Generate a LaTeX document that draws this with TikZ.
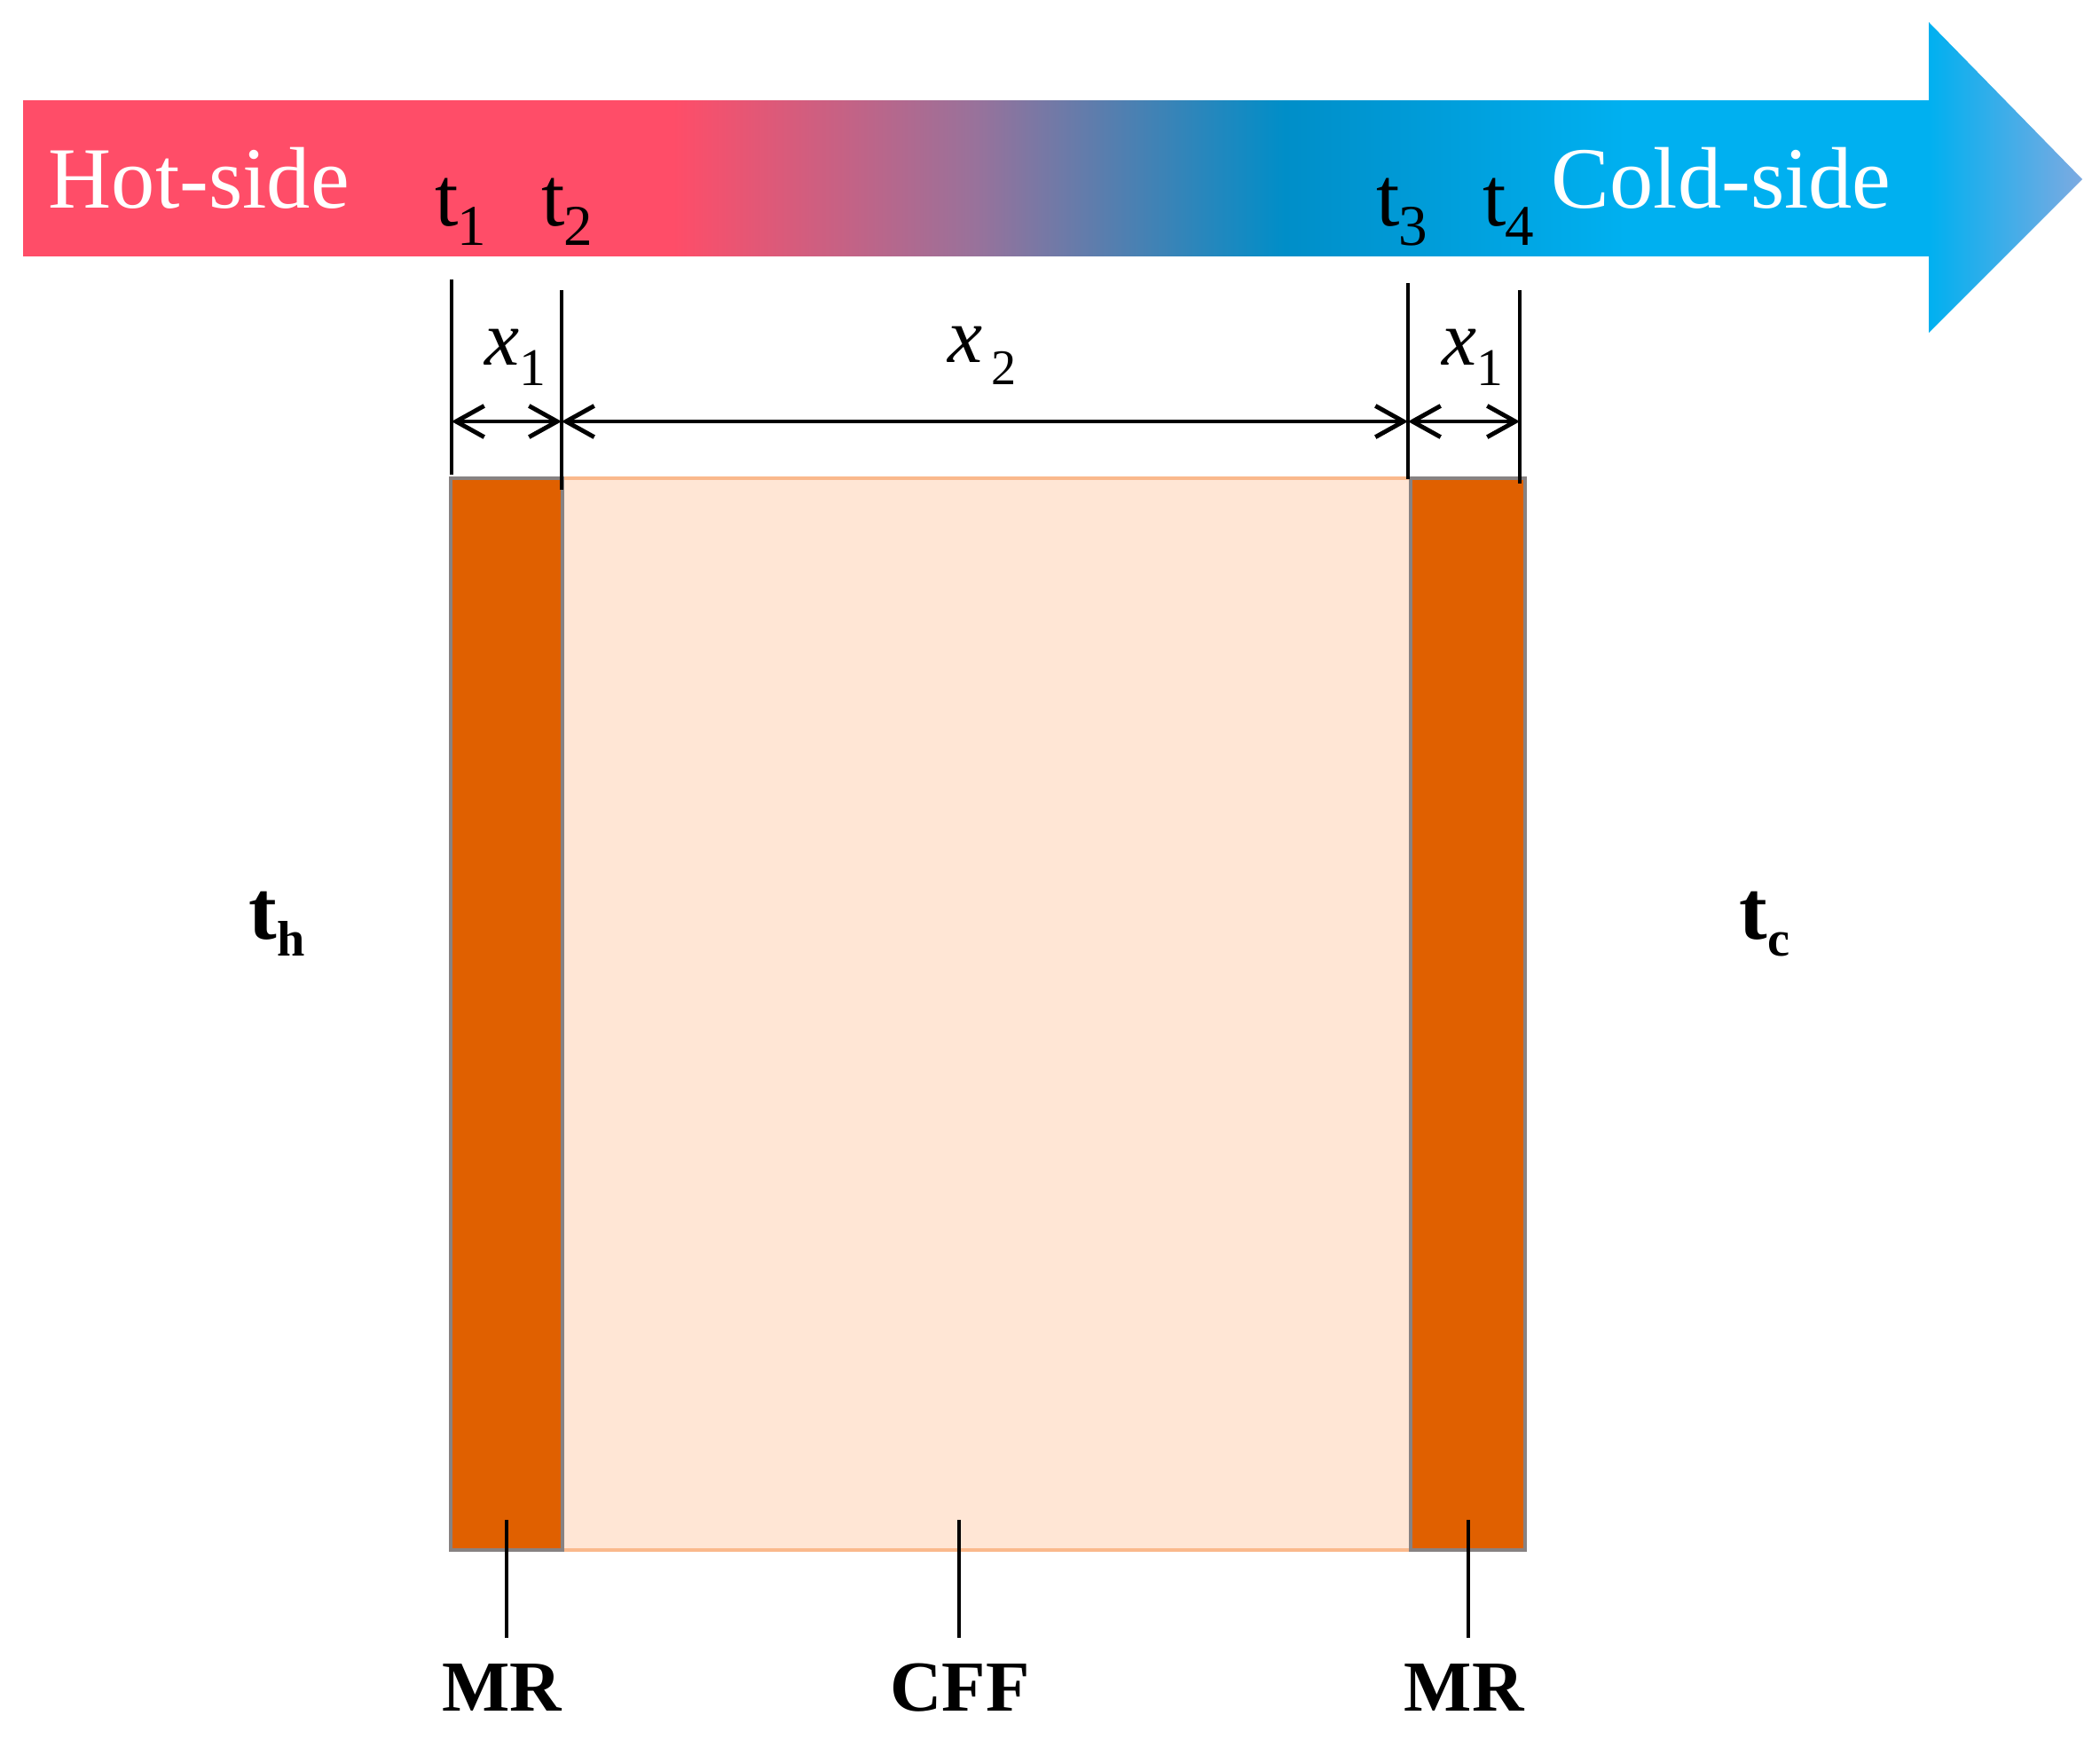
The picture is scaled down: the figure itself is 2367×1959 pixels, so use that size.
\documentclass[tikz,border=0pt]{standalone}
\usepackage{fontspec}
\setmainfont{Liberation Serif}
\usetikzlibrary{arrows.meta}
\definecolor{hot}{RGB}{255,77,104}
\definecolor{mid}{RGB}{152,114,155}
\definecolor{dblue}{RGB}{0,142,200}
\definecolor{lblue}{RGB}{0,176,240}
\definecolor{tipblue}{RGB}{125,170,225}
\definecolor{mrfill}{RGB}{224,96,0}
\definecolor{cfffill}{RGB}{255,230,213}
\definecolor{cffline}{RGB}{250,185,140}
\definecolor{mrline}{RGB}{135,130,130}
\pgfdeclarehorizontalshading{heatflow}{100bp}{color(0bp)=(hot); color(42.05bp)=(hot); color(50bp)=(mid); color(58.07bp)=(dblue); color(67bp)=(lblue); color(100bp)=(lblue)}
\newcommand{\tlab}[1]{\fontsize{27}{30}\selectfont t\kern-0.02cm\raisebox{-0.22cm}{\fontsize{18.5}{20}\selectfont #1}}
\newcommand{\tbold}[1]{\fontsize{27}{30}\selectfont\bfseries t\raisebox{-0.19cm}{\fontsize{16}{18}\selectfont #1}}
\begin{document}
\begin{tikzpicture}[x=0.01cm,y=-0.01cm,
  dimline/.style={line width=1.1pt,black},
  dimarrow/.style={line width=1.4pt,black,{Straight Barb[length=9pt,width=10pt]}-{Straight Barb[length=9pt,width=10pt]}},
  leader/.style={line width=1.3pt,black},
  partlab/.style={inner sep=0pt,anchor=base,font=\fontsize{23}{26}\selectfont\bfseries}]
\useasboundingbox (0,0) rectangle (2367,1959);
% gradient arrow
\shade[shading=heatflow] (26,113) rectangle (2176,288);
\shade[left color=lblue,right color=tipblue] (2174,25) -- (2347,202) -- (2174,375) -- cycle;
% arrow labels
\node[inner sep=0pt,anchor=base west,text=white,font=\fontsize{28}{30}\selectfont] (hot) at (54,234) {Hot-side};
\node[inner sep=0pt,anchor=base west,text=white,font=\fontsize{28}{30}\selectfont] (cold) at (1748,234) {Cold-side};
\node[inner sep=0pt,anchor=base west] (t1) at (490,254) {\tlab{1}};
\node[inner sep=0pt,anchor=base west] (t2) at (610,254) {\tlab{2}};
\node[inner sep=0pt,anchor=base west] (t3) at (1551,254) {\tlab{3}};
\node[inner sep=0pt,anchor=base west] (t4) at (1671,254) {\tlab{4}};
% layers
\draw[line width=0.9pt,cffline,fill=cfffill] (634,539) rectangle (1590,1747);
\draw[line width=0.9pt,mrline,fill=mrfill] (508,539) rectangle (634,1747);
\draw[line width=0.9pt,mrline,fill=mrfill] (1590,539) rectangle (1719,1747);
% dimension lines
\coordinate (a1) at (509,315); \coordinate (b1) at (509,535);
\coordinate (a2) at (633,327); \coordinate (b2) at (633,552);
\coordinate (a3) at (1587,319); \coordinate (b3) at (1587,540);
\coordinate (a4) at (1713,327); \coordinate (b4) at (1713,545);
\draw[dimline] (a1) -- (b1);
\draw[dimline] (a2) -- (b2);
\draw[dimline] (a3) -- (b3);
\draw[dimline] (a4) -- (b4);
\coordinate (d1) at (509,475); \coordinate (d2) at (633,475);
\coordinate (d3) at (1587,475); \coordinate (d4) at (1713,475);
\draw[dimarrow] (d1) -- (d2);
\draw[dimarrow] (d2) -- (d3);
\draw[dimarrow] (d3) -- (d4);
\node[inner sep=0pt,anchor=base west] (x1a) at (546,411) {\fontsize{25}{28}\selectfont\itshape x\raisebox{-0.23cm}{\upshape\fontsize{17}{20}\selectfont 1}};
\node[inner sep=0pt,anchor=base west] (x1b) at (1625,411) {\fontsize{25}{28}\selectfont\itshape x\raisebox{-0.23cm}{\upshape\fontsize{17}{20}\selectfont 1}};
\node[inner sep=0pt,anchor=base west] (x2) at (1068,408) {\fontsize{25}{28}\selectfont\itshape x\hspace{0.1cm}\raisebox{-0.25cm}{\upshape\fontsize{16}{20}\selectfont 2}};
% side temperatures
\node[inner sep=0pt,anchor=base west] (th) at (280,1058) {\tbold{h}};
\node[inner sep=0pt,anchor=base west] (tc) at (1960,1058) {\tbold{c}};
% part labels
\node[partlab] (mr1) at (566,1928) {MR};
\node[partlab] (cff) at (1082,1928) {CFF};
\node[partlab] (mr2) at (1650,1928) {MR};
\coordinate (l1a) at (571,1713); \coordinate (l1b) at (571,1846);
\coordinate (l2a) at (1081,1713); \coordinate (l2b) at (1081,1846);
\coordinate (l3a) at (1655,1713); \coordinate (l3b) at (1655,1846);
\draw[leader] (l1a) -- (l1b);
\draw[leader] (l2a) -- (l2b);
\draw[leader] (l3a) -- (l3b);
\end{tikzpicture}
\end{document}
